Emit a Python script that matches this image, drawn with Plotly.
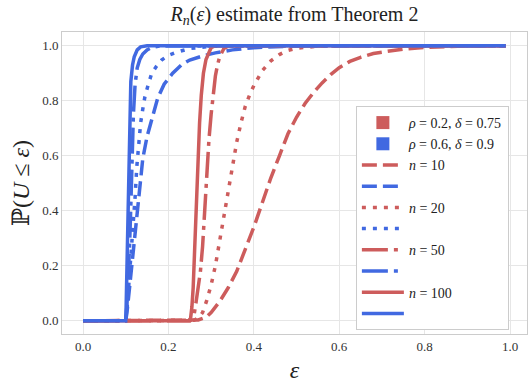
import plotly.graph_objects as go

# rho = 0.2, delta = 0.75  (red)
red_n10_x = [0.0, 0.25, 0.27, 0.29, 0.30, 0.32, 0.34, 0.36, 0.38, 0.40, 0.42, 0.44, 0.46, 0.48, 0.50,
             0.52, 0.54, 0.56, 0.58, 0.60, 0.625, 0.65, 0.68, 0.72, 0.75, 0.80, 0.85, 0.90, 0.99]
red_n10_y = [0.0, 0.0, 0.003, 0.015, 0.03, 0.07, 0.12, 0.18, 0.26, 0.34, 0.43, 0.52, 0.60, 0.68, 0.74,
             0.79, 0.83, 0.865, 0.895, 0.92, 0.943, 0.958, 0.972, 0.982, 0.988, 0.994, 0.997, 0.999, 1.0]

red_n20_x = [0.0, 0.25, 0.26, 0.27, 0.28, 0.29, 0.30, 0.31, 0.32, 0.33, 0.34, 0.35, 0.36, 0.37, 0.38,
             0.39, 0.40, 0.42, 0.44, 0.46, 0.48, 0.50, 0.55, 0.60, 0.99]
red_n20_y = [0.0, 0.0, 0.002, 0.01, 0.03, 0.075, 0.13, 0.20, 0.29, 0.38, 0.48, 0.57, 0.65, 0.72, 0.78,
             0.82, 0.855, 0.91, 0.945, 0.968, 0.983, 0.991, 0.998, 1.0, 1.0]

red_n50_x = [0.0, 0.25, 0.255, 0.26, 0.265, 0.27, 0.275, 0.28, 0.285, 0.29, 0.295, 0.30, 0.305, 0.31,
             0.315, 0.32, 0.33, 0.34, 0.36, 0.99]
red_n50_y = [0.0, 0.0, 0.005, 0.02, 0.07, 0.12, 0.18, 0.27, 0.40, 0.55, 0.66, 0.75, 0.83, 0.89,
             0.93, 0.96, 0.99, 0.998, 1.0, 1.0]

red_n100_x = [0.0, 0.25, 0.252, 0.255, 0.258, 0.261, 0.264, 0.267, 0.27, 0.273, 0.277, 0.282, 0.288,
              0.295, 0.30, 0.31, 0.99]
red_n100_y = [0.0, 0.0, 0.01, 0.05, 0.12, 0.25, 0.38, 0.52, 0.63, 0.72, 0.82, 0.90, 0.95,
              0.98, 0.993, 1.0, 1.0]

# rho = 0.6, delta = 0.9  (blue)
blue_n10_x = [0.0, 0.1, 0.103, 0.107, 0.112, 0.117, 0.122, 0.127, 0.133, 0.14, 0.15, 0.16, 0.175, 0.19,
              0.21, 0.23, 0.25, 0.28, 0.31, 0.35, 0.40, 0.50, 0.99]
blue_n10_y = [0.0, 0.0, 0.03, 0.09, 0.17, 0.25, 0.33, 0.42, 0.51, 0.59, 0.67, 0.73, 0.81, 0.86,
              0.90, 0.93, 0.948, 0.963, 0.974, 0.985, 0.993, 0.999, 1.0]

blue_n20_x = [0.0, 0.1, 0.103, 0.106, 0.11, 0.114, 0.118, 0.122, 0.126, 0.13, 0.135, 0.14, 0.145, 0.153,
              0.161, 0.172, 0.184, 0.20, 0.22, 0.25, 0.30, 0.99]
blue_n20_y = [0.0, 0.0, 0.04, 0.10, 0.18, 0.26, 0.34, 0.45, 0.56, 0.64, 0.72, 0.77, 0.815, 0.86,
              0.90, 0.925, 0.948, 0.965, 0.977, 0.99, 0.998, 1.0]

blue_n50_x = [0.0, 0.1, 0.103, 0.106, 0.109, 0.112, 0.115, 0.118, 0.122, 0.127, 0.133, 0.14, 0.15,
              0.16, 0.18, 0.99]
blue_n50_y = [0.0, 0.0, 0.06, 0.15, 0.27, 0.42, 0.60, 0.75, 0.86, 0.92, 0.95, 0.97, 0.985,
              0.993, 0.999, 1.0]

blue_n100_x = [0.0, 0.1, 0.101, 0.103, 0.105, 0.107, 0.109, 0.112, 0.116, 0.12, 0.127, 0.135, 0.15, 0.99]
blue_n100_y = [0.0, 0.0, 0.05, 0.20, 0.40, 0.60, 0.75, 0.87, 0.93, 0.96, 0.985, 0.996, 1.0, 1.0]

RED = "#CD5C5C"
BLUE = "#4169E1"
FONT = "Liberation Serif, DejaVu Serif, serif"

series = [
    ("<i>n</i> = 10", "15px,6px", red_n10_x, red_n10_y, blue_n10_x, blue_n10_y),
    ("<i>n</i> = 20", "4px,7px", red_n20_x, red_n20_y, blue_n20_x, blue_n20_y),
    ("<i>n</i> = 50", "26px,6px,4px,6px", red_n50_x, red_n50_y, blue_n50_x, blue_n50_y),
    ("<i>n</i> = 100", "solid", red_n100_x, red_n100_y, blue_n100_x, blue_n100_y),
]

fig = go.Figure()

# legend-only colour keys
fig.add_trace(go.Scatter(x=[None], y=[None], mode="markers", name="<i>ρ</i> = 0.2, <i>δ</i> = 0.75",
                         marker=dict(symbol="square", size=13, color=RED)))
fig.add_trace(go.Scatter(x=[None], y=[None], mode="markers", name="<i>ρ</i> = 0.6, <i>δ</i> = 0.9",
                         marker=dict(symbol="square", size=13, color=BLUE)))

for label, dash, rx, ry, bx, by in series:
    fig.add_trace(go.Scatter(x=rx, y=ry, mode="lines", name=label,
                             line=dict(color=RED, width=3.5, dash=dash)))
    fig.add_trace(go.Scatter(x=bx, y=by, mode="lines", name=" ",
                             line=dict(color=BLUE, width=3.5, dash=dash)))

axis_common = dict(
    showgrid=True, gridcolor="#e6e6e6", gridwidth=1,
    showline=True, linecolor="#cccccc", linewidth=1, mirror=True,
    zeroline=False, ticks="", tickformat=".1f", automargin=False,
    tickvals=[0, 0.2, 0.4, 0.6, 0.8, 1.0],
    tickfont=dict(family=FONT, size=13, color="#333333"),
)

fig.update_layout(
    width=528, height=384,
    margin=dict(l=62, r=1, t=32, b=50),
    plot_bgcolor="white", paper_bgcolor="white",
    title=dict(text="<i>R<sub>n</sub></i>(<i>ε</i>) estimate from Theorem 2",
               x=0.5, xref="paper", xanchor="center",
               y=1 - 14 / 384, yref="container", yanchor="middle",
               font=dict(family=FONT, size=20, color="#222222")),
    xaxis=dict(axis_common, range=[-0.0492, 1.0398],
               title=dict(text="<i>ε</i>", font=dict(family=FONT, size=24, color="#222222"), standoff=8)),
    yaxis=dict(axis_common, range=[-0.048, 1.05],
               title=dict(text="ℙ(<i>U</i> ≤ <i>ε</i>)", font=dict(family=FONT, size=24, color="#222222"),
                          standoff=5)),
    legend=dict(x=0.632, y=0.755, xanchor="left", yanchor="top",
                bgcolor="white", bordercolor="#cccccc", borderwidth=1,
                font=dict(family=FONT, size=14, color="#222222"),
                itemwidth=42, tracegroupgap=0),
    showlegend=True,
)

fig.write_html("out.html", config={"displayModeBar": False},
               post_script="document.body.style.margin='0';")
